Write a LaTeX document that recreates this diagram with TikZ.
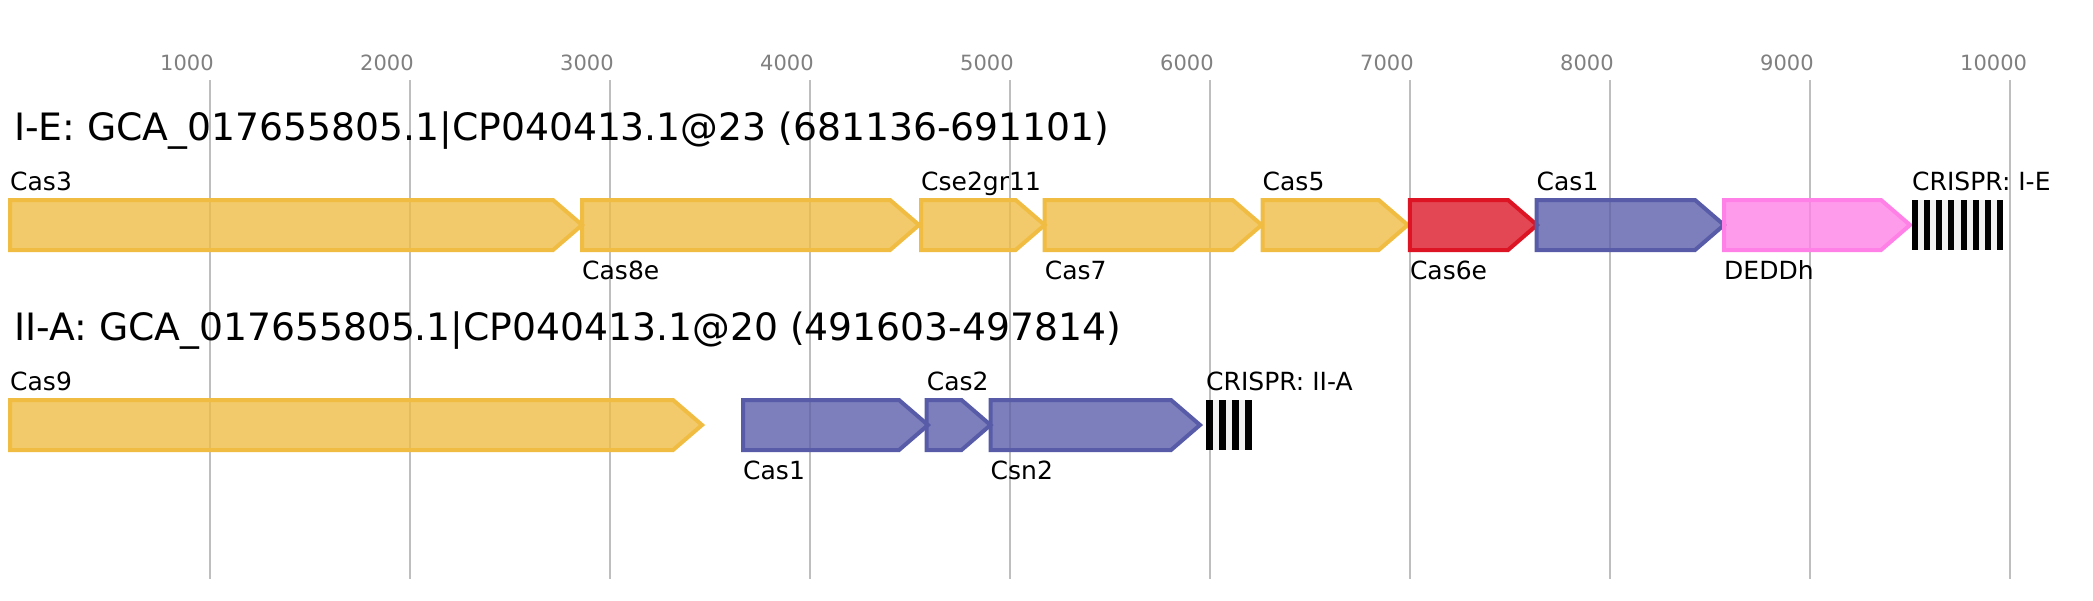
\documentclass[tikz,border=0pt]{standalone}
\usepackage{fontspec}
\setmainfont{DejaVu Sans}
\definecolor{cyel}{RGB}{240,188,66}
\definecolor{cred}{RGB}{220,20,35}
\definecolor{cblue}{RGB}{88,92,168}
\definecolor{cpink}{RGB}{255,128,230}
\definecolor{cgrid}{RGB}{190,190,190}
\definecolor{ctick}{RGB}{128,128,128}
\definecolor{crback}{RGB}{240,240,240}
\newcommand\genearrow[4]{% start, tip, ytop, colour
  \draw[genebox, draw=#4, fill=#4] (#1,#3) -- ({#2-29},#3) -- (#2,{#3+25}) -- ({#2-29},{#3+50}) -- (#1,{#3+50}) -- cycle;
}
\begin{document}
\begin{tikzpicture}[x=1pt,y=-1pt,
  genebox/.style={line width=4pt, fill opacity=0.78, draw opacity=1, line join=miter},
  gridline/.style={draw=cgrid, line width=2pt},
  ticklbl/.style={anchor=base west, inner sep=0pt, text=ctick, font=\fontsize{21}{25}\selectfont},
  lbl/.style={anchor=base west, inner sep=0pt, font=\fontsize{25}{30}\selectfont},
  ttl/.style={anchor=base west, inner sep=0pt, font=\fontsize{37.7}{44}\selectfont}]
\useasboundingbox[fill=white] (0,0) rectangle (2093,600);
% grid and ticks
\foreach \k in {1,...,10} {
  \coordinate (gt\k) at ({10+200*\k},80);
  \coordinate (gb\k) at ({10+200*\k},579);
  \draw[gridline] (gt\k) -- (gb\k);
  \node[ticklbl] (tick\k) at ({10+200*\k-50},70) {\k000};
}
% titles
\node[ttl] (title1) at (14,140) {I-E: GCA\_017655805.1|CP040413.1@23 (681136-691101)};
\node[ttl] (title2) at (14,340) {II-A: GCA\_017655805.1|CP040413.1@20 (491603-497814)};
% row 1
\genearrow{10}{582}{200}{cyel}
\genearrow{582}{919}{200}{cyel}
\genearrow{921}{1044.6}{200}{cyel}
\genearrow{1044.6}{1261.6}{200}{cyel}
\genearrow{1262.5}{1407.7}{200}{cyel}
\genearrow{1409.8}{1537}{200}{cred}
\genearrow{1536.5}{1724}{200}{cblue}
\genearrow{1724}{1910}{200}{cpink}
\fill[crback] (1912,200) rectangle (2003,250);
\foreach \i in {0,...,7} \fill[black] ({1912+\i*12.14},200) rectangle +(6,50);
\node[lbl] (l1a) at (10,190) {Cas3};
\node[lbl] (l1b) at (582,279) {Cas8e};
\node[lbl] (l1c) at (921,190) {Cse2gr11};
\node[lbl] (l1d) at (1044.6,279) {Cas7};
\node[lbl] (l1e) at (1262.5,190) {Cas5};
\node[lbl] (l1f) at (1409.8,279) {Cas6e};
\node[lbl] (l1g) at (1536.5,190) {Cas1};
\node[lbl] (l1h) at (1724,279) {DEDDh};
\node[lbl] (l1i) at (1912,190) {CRISPR: I-E};
% row 2
\genearrow{10}{702}{400}{cyel}
\genearrow{743}{928}{400}{cblue}
\genearrow{926.7}{990.5}{400}{cblue}
\genearrow{990.5}{1200}{400}{cblue}
\fill[crback] (1206,400) rectangle (1252,450);
\foreach \i in {0,...,3} \fill[black] ({1206+\i*13},400) rectangle +(7,50);
\node[lbl] (l2a) at (10,390) {Cas9};
\node[lbl] (l2b) at (743,479) {Cas1};
\node[lbl] (l2c) at (926.7,390) {Cas2};
\node[lbl] (l2d) at (990.5,479) {Csn2};
\node[lbl] (l2e) at (1206,390) {CRISPR: II-A};
\end{tikzpicture}
\end{document}
